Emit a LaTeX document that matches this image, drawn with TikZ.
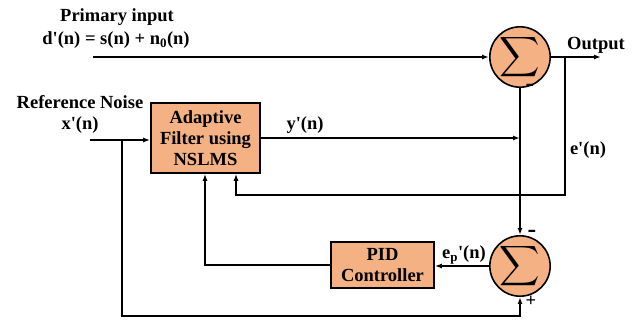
\documentclass[tikz,border=0pt]{standalone}
\usepackage{fontspec}
\newfontfamily\tnr{Liberation Serif}
\usetikzlibrary{arrows.meta}
\definecolor{boxfill}{HTML}{F4B183}
\tikzset{
  lbl/.style={font=\tnr\bfseries\fontsize{18.5}{21}\selectfont, inner sep=0pt, align=center},
  sgn/.style={font=\tnr\bfseries\fontsize{18.5}{21}\selectfont, inner sep=0pt},
  blk/.style={draw, line width=1.6pt, fill=boxfill, align=center, inner sep=0pt,
              font=\tnr\bfseries\fontsize{18.5}{21}\selectfont},
  summer/.style={draw, circle, line width=1.6pt, fill=boxfill, minimum size=56pt, inner sep=0pt},
  conn/.style={line width=1.4pt, -{Latex[length=7pt,width=5pt]}},
}
\newcommand{\sgm}{\scalebox{2.8}{$\displaystyle\sum$}}
\newcommand{\mns}{\scalebox{1.4}{-}}
\begin{document}
\begin{tikzpicture}[x=1pt,y=-1pt]
\useasboundingbox (0,0) rectangle (636,320);
% blocks
\node[summer] (s1) at (520,57) {\sgm};
\node[summer] (s2) at (520,266) {\sgm};
\node[blk, minimum width=109pt, minimum height=70pt] (filt) at (205.5,138) {Adaptive\\Filter using\\NSLMS};
\node[blk, minimum width=103pt, minimum height=46pt] (pid) at (382.5,265) {PID\\Controller};
% free ends
\coordinate (pin) at (93,57);
\coordinate (xin) at (90,140);
\coordinate (outend) at (601,57);
\coordinate (eb) at (565,57);
\coordinate (ec) at (565,195);
\coordinate (ed) at (236,195);
\coordinate (xb) at (122,140);
\coordinate (xc) at (122,316);
\coordinate (xd) at (520,316);
\coordinate (pa) at (205,265);
\coordinate (yend) at (520,138);
% connectors
\draw[conn] (pin) -- (s1.west);
\draw[conn] (s1.east) -- (outend);
\draw[conn] (eb) -- (ec) -- (ed) -- (ed |- filt.south);
\draw[conn] (s1.south) -- (s2.north);
\draw[conn] (filt.east |- yend) -- (yend);
\draw[conn] (xin) -- (filt.west |- xin);
\draw[conn] (xb) -- (xc) -- (xd) -- (s2.south);
\draw[conn] (s2.west) -- (pid.east |- s2.west);
\draw[conn] (pid.west |- pa) -- (pa) -- (pa |- filt.south);
% labels
\node[lbl] (l1) at (117,17) {Primary input};
\node[lbl] (l2) at (116,40) {d'(n) = s(n) + n\textsubscript{0}(n)};
\node[lbl] (l3) at (80,102) {Reference Noise};
\node[lbl] (l4) at (80,125) {x'(n)};
\node[lbl] (l5) at (305,125) {y'(n)};
\node[lbl] (l6) at (596,45) {Output};
\node[lbl] (l7) at (588,150) {e'(n)};
\node[lbl] (l8) at (464,255) {e\textsubscript{p}'(n)};
\node[sgn] (m1) at (530,88) {\mns};
\node[sgn] (m2) at (532,234) {\mns};
\node[lbl] (p1) at (531,301) {+};
\end{tikzpicture}
\end{document}
